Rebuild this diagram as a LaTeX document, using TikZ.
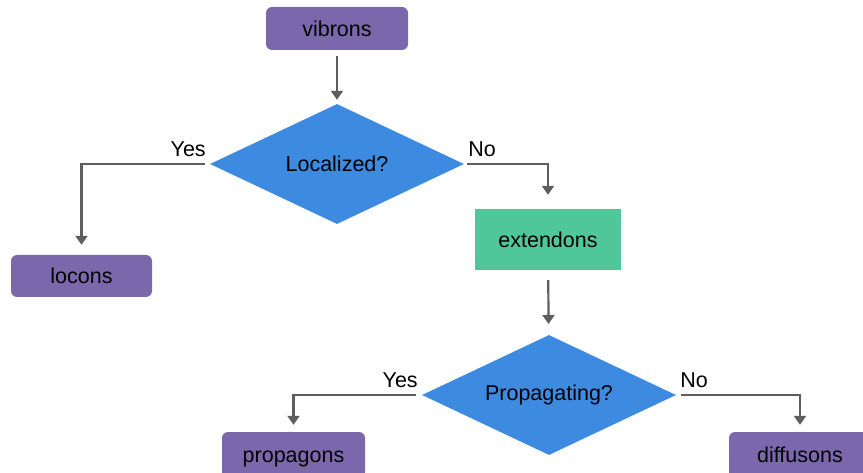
\documentclass[tikz,border=0pt]{standalone}
\usepackage{fontspec}
\setmainfont{Liberation Sans}
\usetikzlibrary{arrows.meta,shapes.geometric}
\definecolor{leafpurple}{HTML}{7B67AB}
\definecolor{askblue}{HTML}{3D8BE0}
\definecolor{extgreen}{HTML}{50C79A}
\definecolor{flowgray}{HTML}{5E5E5E}

\begin{document}
\begin{tikzpicture}[x=1pt,y=-1pt,
    font=\fontsize{21.5}{25}\selectfont,
    leaf/.style={fill=leafpurple,rounded corners=6pt,inner sep=0pt,text height=15.5pt,text depth=0pt,minimum width=142pt,minimum height=43pt},
    ask/.style={diamond,fill=askblue,inner sep=0pt,aspect=2.1,minimum width=254pt,minimum height=120pt},
    flow/.style={-{Triangle[width=12pt,length=9pt]},draw=flowgray,line width=2.2pt},
    every label/.style={inner sep=3pt,yshift=3pt}]
    \useasboundingbox (0,0) rectangle (863,473);

    \node[leaf] (1) at (337,28.5) {vibrons};
    \node[ask] (2) at (337,164) {Localized?};
    \node[leaf,minimum width=141pt,minimum height=42pt] (3) at (81.5,276) {locons};
    \node[fill=extgreen,inner sep=0pt,minimum width=146pt,minimum height=61pt] (4) at (548,239.5) {extendons};
    \node[ask] (5) at (549,395) {Propagating?};
    \node[leaf,minimum width=143pt,minimum height=46pt] (6) at (293.5,455) {propagons};
    \node[leaf,minimum height=46pt] (7) at (800,455) {diffusons};

    \draw[flow,shorten <=6pt,shorten >=4pt] (1) -- (2);
    \draw[flow,shorten <=5pt,shorten >=10pt] (2.west) -| node[pos=0,above left,every label] {Yes} (3.north);
    \draw[flow,shorten <=3pt,shorten >=14pt] (2.east) -| node[pos=0,above right,every label] {No} (4.north);
    \draw[flow,shorten <=10pt,shorten >=11pt] (4) -- (5);
    \draw[flow,shorten <=6pt,shorten >=7pt] (5.west) -| node[pos=0,above left,every label] {Yes} (6.north);
    \draw[flow,shorten <=5pt,shorten >=7pt] (5.east) -| node[pos=0,above right,every label] {No} (7.north);
\end{tikzpicture}
\end{document}
